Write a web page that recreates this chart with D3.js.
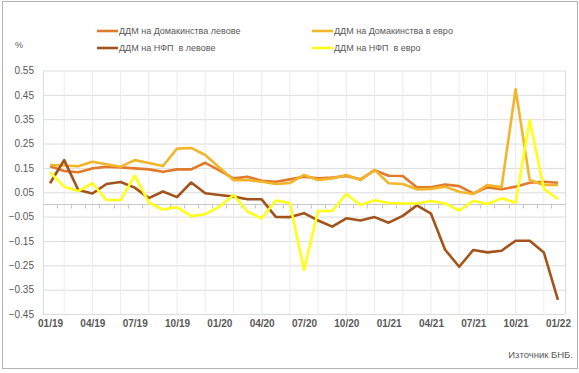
<!DOCTYPE html>
<html>
<head>
<meta charset="utf-8">
<script src="https://cdn.jsdelivr.net/npm/d3@7"></script>
<style>
  body { margin: 0; background: #fff; }
  text { font-family: "Liberation Sans", Arial, sans-serif; fill: #595959; }
</style>
</head>
<body>
<div id="chart"></div>
<script>
// months on the category axis
var months = ["01/19","02/19","03/19","04/19","05/19","06/19","07/19","08/19","09/19","10/19","11/19","12/19",
  "01/20","02/20","03/20","04/20","05/20","06/20","07/20","08/20","09/20","10/20","11/20","12/20",
  "01/21","02/21","03/21","04/21","05/21","06/21","07/21","08/21","09/21","10/21","11/21","12/21",
  "01/22"];

// series values, %
var hhLev = [0.157,0.137,0.132,0.148,0.155,0.152,0.148,0.144,0.134,0.144,0.144,0.171,
  0.140,0.107,0.114,0.097,0.093,0.103,0.114,0.107,0.110,0.117,0.103,0.140,
  0.118,0.117,0.070,0.070,0.082,0.075,0.045,0.070,0.062,0.073,0.089,0.093,0.089];
var hhEur = [0.162,0.160,0.157,0.175,0.165,0.155,0.182,0.170,0.158,0.229,0.232,0.203,
  0.152,0.100,0.100,0.093,0.084,0.088,0.121,0.100,0.107,0.121,0.100,0.142,
  0.087,0.084,0.062,0.064,0.073,0.052,0.043,0.080,0.070,0.473,0.100,0.080,0.080];
var nfpLev = [0.087,0.182,0.059,0.045,0.084,0.092,0.069,0.026,0.053,0.030,0.090,0.046,
  0.039,0.032,0.021,0.021,-0.051,-0.052,-0.036,-0.066,-0.091,-0.057,-0.066,-0.052,
  -0.075,-0.047,-0.004,-0.038,-0.186,-0.256,-0.187,-0.197,-0.190,-0.149,-0.149,-0.197,-0.392];
var nfpEur = [0.132,0.073,0.055,0.087,0.018,0.018,0.118,0.008,-0.021,-0.011,-0.048,-0.040,
  -0.010,0.039,-0.030,-0.057,0.016,0.006,-0.269,-0.027,-0.027,0.043,-0.002,0.017,
  0.006,0.004,0.004,0.014,0.004,-0.025,0.015,0.002,0.025,0.007,0.347,0.064,0.021];

var seriesNames = ["ДДМ на Домакинства левове", "ДДМ на Домакинства в евро",
  "ДДМ на НФП  в левове", "ДДМ на НФП  в евро"];
var seriesColors = ["#E27A2C", "#F3B52A", "#A2541C", "#FFFF1A"];
var seriesValues = [hhLev, hhEur, nfpLev, nfpEur];

var yTicks = [0.55,0.45,0.35,0.25,0.15,0.05,-0.05,-0.15,-0.25,-0.35,-0.45];

var svgWidth = 579, svgHeight = 373;
var plot = { left: 43, right: 565, top: 70.5, bottom: 314 };

var svg = d3.select("#chart").append("svg")
  .attr("width", svgWidth)
  .attr("height", svgHeight);

// outer frame
svg.append("rect")
  .attr("x", 2.5).attr("y", 1.5)
  .attr("width", 575).attr("height", 367)
  .attr("fill", "none")
  .attr("stroke", "#b4b4b4");

var x = d3.scalePoint()
  .domain(months)
  .range([plot.left, plot.right])
  .padding(0.5);
var step = x.step();

var y = d3.scaleLinear()
  .domain([-0.45, 0.55])
  .range([plot.bottom, plot.top]);

// horizontal grid
var yGrid = d3.axisLeft(y).tickValues(yTicks).tickSize(-(plot.right - plot.left)).tickFormat("");
svg.append("g")
  .attr("transform", `translate(${plot.left},0)`)
  .call(yGrid)
  .call(g => g.select(".domain").remove())
  .call(g => g.selectAll("line").attr("stroke", "#dcdcdc"));

// vertical grid, every second month
svg.append("g").selectAll("line")
  .data(months.filter((m, i) => i % 2 === 1))
  .enter().append("line")
  .attr("x1", d => x(d)).attr("x2", d => x(d))
  .attr("y1", plot.top).attr("y2", plot.bottom)
  .attr("stroke", "#ececec");

// right edge of plot
svg.append("line")
  .attr("x1", plot.right + 0.5).attr("x2", plot.right + 0.5)
  .attr("y1", plot.top).attr("y2", plot.bottom)
  .attr("stroke", "#dcdcdc");

// left axis line
svg.append("line")
  .attr("x1", plot.left + 0.5).attr("x2", plot.left + 0.5)
  .attr("y1", plot.top).attr("y2", plot.bottom)
  .attr("stroke", "#d6dde8");

// y labels
var yAxis = d3.axisLeft(y).tickValues(yTicks).tickSize(0).tickPadding(0).tickFormat(d3.format(".2f"));
svg.append("g")
  .attr("transform", `translate(34,0)`)
  .call(yAxis)
  .call(g => g.select(".domain").remove())
  .call(g => g.selectAll("text").attr("font-size", "10px").attr("fill", "#595959")
    .attr("font-family", "Liberation Sans, Arial, sans-serif"));

// zero axis with month ticks at category boundaries
var y0 = Math.round(y(0)) + 0.5;
svg.append("line")
  .attr("x1", plot.left).attr("x2", plot.right)
  .attr("y1", y0).attr("y2", y0)
  .attr("stroke", "#c8c8c8");
svg.append("g").selectAll("line")
  .data(months.slice(1))
  .enter().append("line")
  .attr("x1", d => Math.round(x(d) - step / 2) + 0.5)
  .attr("x2", d => Math.round(x(d) - step / 2) + 0.5)
  .attr("y1", y0).attr("y2", y0 + 4)
  .attr("stroke", "#c8c8c8");

// month labels, every third month
var xAxis = d3.axisBottom(x).tickValues(months.filter((m, i) => i % 3 === 0)).tickSize(0).tickPadding(0);
svg.append("g")
  .attr("transform", `translate(0,${plot.bottom + 6})`)
  .call(xAxis)
  .call(g => g.select(".domain").remove())
  .call(g => g.selectAll("text").attr("font-size", "10px").attr("font-weight", "bold")
    .attr("fill", "#595959").attr("font-family", "Liberation Sans, Arial, sans-serif"));

// lines
var drawLine = d3.line()
  .x((d, i) => x(months[i]))
  .y(d => y(d));

seriesValues.forEach(function(vals, k) {
  svg.append("path")
    .attr("d", drawLine(vals))
    .attr("fill", "none")
    .attr("stroke", seriesColors[k])
    .attr("stroke-width", 2.6)
    .attr("stroke-linejoin", "round");
});

// unit
svg.append("text")
  .attr("x", 15).attr("y", 48)
  .attr("font-size", "9px")
  .text("%");

// legend
var legendPos = [[97, 31], [312, 31], [97, 48], [312, 48]];
seriesNames.forEach(function(name, k) {
  var g = svg.append("g").attr("transform", `translate(${legendPos[k][0]},${legendPos[k][1]})`);
  g.append("line")
    .attr("x1", 0).attr("x2", 21)
    .attr("y1", 0).attr("y2", 0)
    .attr("stroke", seriesColors[k])
    .attr("stroke-width", 2.6);
  g.append("text")
    .attr("x", 22).attr("y", 3.2)
    .attr("font-size", "9px")
    .style("white-space", "pre")
    .text(name);
});

// source
svg.append("text")
  .attr("x", 573).attr("y", 358)
  .attr("text-anchor", "end")
  .attr("font-size", "9.5px")
  .text("Източник БНБ.");
</script>
</body>
</html>
